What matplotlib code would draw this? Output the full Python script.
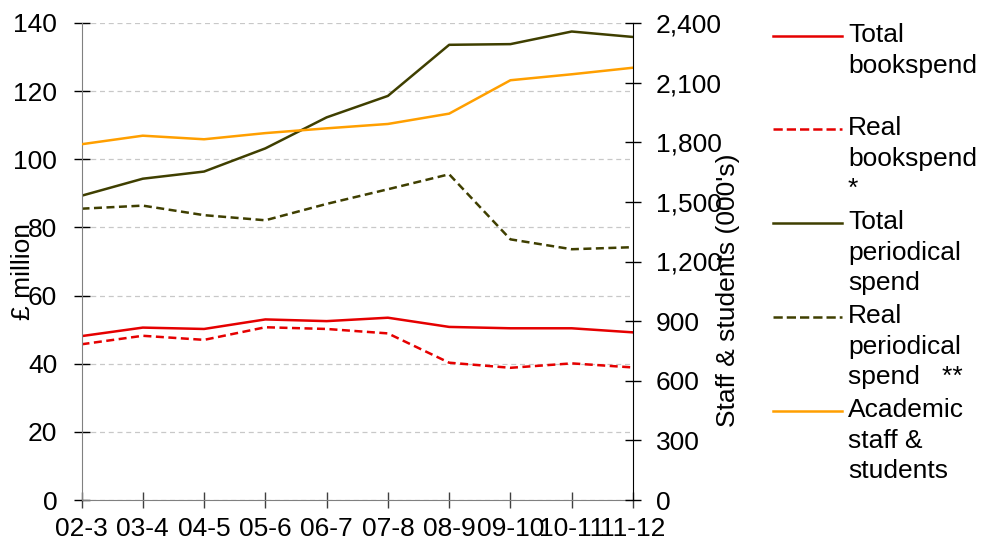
import matplotlib
matplotlib.use("Agg")
import matplotlib.pyplot as plt
from matplotlib.lines import Line2D
from matplotlib.ticker import FuncFormatter

plt.rcParams['font.family'] = ['Liberation Sans', 'DejaVu Sans']

years = ["02-3", "03-4", "04-5", "05-6", "06-7", "07-8", "08-9", "09-10", "10-11", "11-12"]
total_bookspend = [48.1, 50.6, 50.2, 53.0, 52.5, 53.5, 50.8, 50.4, 50.4, 49.2]
real_bookspend = [45.7, 48.2, 47.0, 50.7, 50.2, 48.9, 40.3, 38.8, 40.1, 38.9]
total_periodical = [89.3, 94.3, 96.4, 103.2, 112.3, 118.6, 133.6, 133.8, 137.5, 135.9]
real_periodical = [85.5, 86.4, 83.6, 82.1, 86.9, 91.2, 95.6, 76.5, 73.6, 74.2]
staff_students = [1790, 1833, 1815, 1846, 1870, 1892, 1944, 2112, 2142, 2175]

legend_labels = ["Total\nbookspend", "Real\nbookspend\n*", "Total\nperiodical\nspend",
                 "Real\nperiodical\nspend   **", "Academic\nstaff &\nstudents"]

RED = "#E50000"
OLIVE = "#3F3F00"
ORANGE = "#FF9F00"
FS = 19
LW = 1.8

W, H = 981, 542
fig = plt.figure(figsize=(W / 100, H / 100), dpi=100)
ax = fig.add_axes([81.5 / W, 1 - 500 / H, (633 - 81.5) / W, (500 - 23) / H])
ax2 = ax.twinx()

x = list(range(len(years)))
l1, = ax.plot(x, total_bookspend, color=RED, lw=LW)
l2, = ax.plot(x, real_bookspend, color=RED, lw=LW, ls=(0, (3.2, 1.8)))
l3, = ax.plot(x, total_periodical, color=OLIVE, lw=LW)
l4, = ax.plot(x, real_periodical, color=OLIVE, lw=LW, ls=(0, (3.2, 1.8)))
l5, = ax2.plot(x, staff_students, color=ORANGE, lw=LW)

ax.set_xlim(0, len(years) - 1)
ax.set_ylim(0, 140)
ax.set_yticks(range(0, 141, 20))
ax2.set_ylim(0, 2400)
ax2.set_yticks(range(0, 2401, 300))
ax2.yaxis.set_major_formatter(FuncFormatter(lambda v, p: f"{int(v):,}"))
ax.set_xticks(x)
ax.set_xticklabels(years)

for a in (ax, ax2):
    a.spines['top'].set_visible(False)
ax.spines['left'].set_color('#808080')
ax.spines['bottom'].set_color('#808080')
ax.spines['right'].set_visible(False)
ax2.spines['left'].set_visible(False)
ax2.spines['bottom'].set_visible(False)
ax2.spines['right'].set_color('black')

ax.yaxis.grid(True, color='#C8C8C8', ls=(0, (4, 3)), lw=0.9)
ax.set_axisbelow(True)

ax.tick_params(axis='y', direction='inout', length=11, width=1, color='black',
               labelsize=FS, pad=12)
ax.tick_params(axis='x', direction='inout', length=11, width=1, color='#404040',
               labelsize=FS, pad=7)
ax2.tick_params(axis='y', direction='inout', length=11, width=1, color='black',
                labelsize=FS, pad=11)

fig.text(23 / W, 1 - 272 / H, "£ million", rotation=90, fontsize=FS,
         ha='center', va='center')
fig.text(728 / W, 1 - 290 / H, "Staff & students (000's)", rotation=90, fontsize=FS,
         ha='center', va='center')

# legend
handles = [l1, l2, l3, l4, l5]
hy = [36, 129, 223, 317, 411]
for h, yy, lab in zip(handles, hy, legend_labels):
    fig.add_artist(Line2D([773 / W, 842 / W], [1 - yy / H, 1 - yy / H],
                          color=h.get_color(), lw=LW, ls=h.get_linestyle(),
                          transform=fig.transFigure))
    fig.text(848 / W, 1 - (yy - 13) / H, lab, fontsize=FS, ha='left', va='top',
             linespacing=1.35)

fig.savefig("out.png", dpi=100)
